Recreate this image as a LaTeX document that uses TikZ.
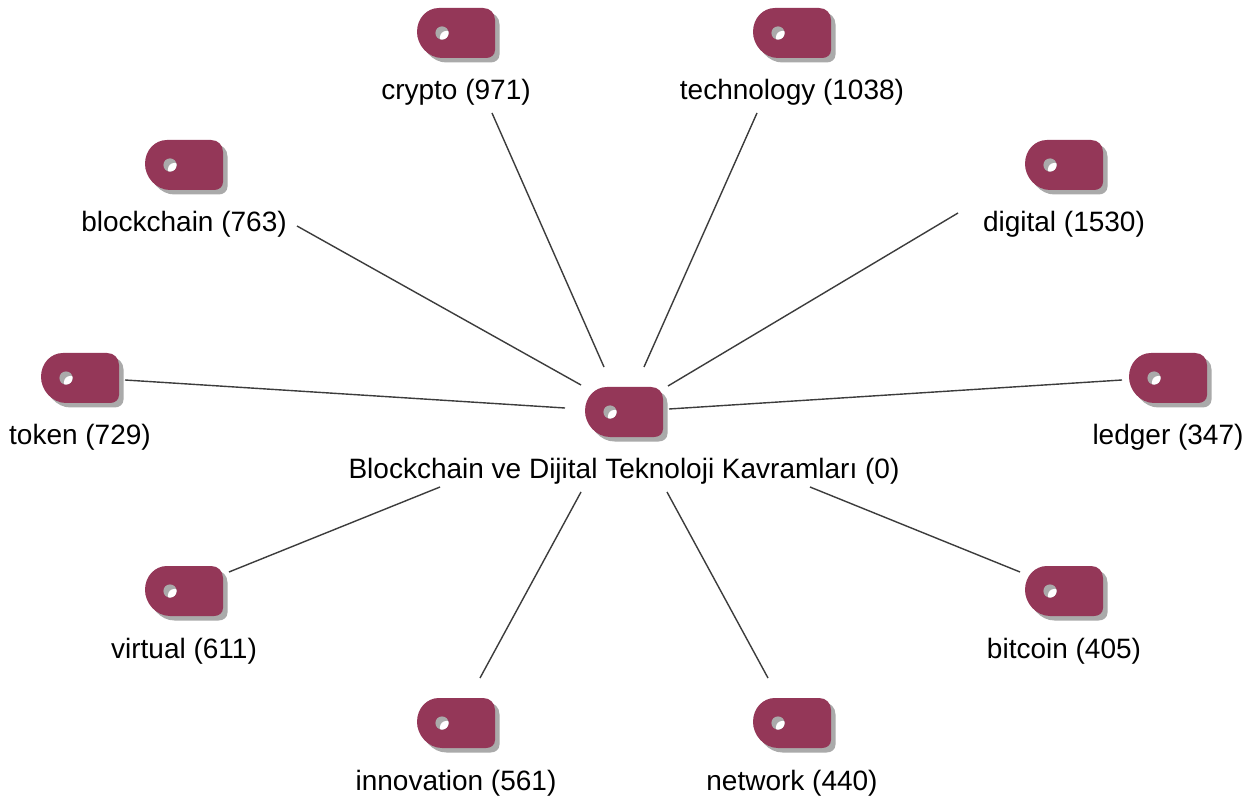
\documentclass[tikz,border=0pt]{standalone}
\usepackage{fontspec}
\setmainfont{Liberation Sans}
\definecolor{tagfill}{RGB}{148,55,88}
\definecolor{tagshadow}{RGB}{170,170,170}
\definecolor{edgecol}{RGB}{60,60,60}
\tikzset{
  x=0.75pt,y=-0.75pt,
  lbl/.style={inner sep=0pt,font=\fontsize{21pt}{25pt}\selectfont,text=black,anchor=base},
  edge/.style={draw=edgecol,line width=1.05pt},
  pics/tagicon/.style={code={
    \def\tagpath{(-17,-25) -- (27,-25) .. controls (34,-25) and (39,-20) .. (39,-13) -- (39,17) .. controls (39,22) and (35,25) .. (30,25) -- (-14,25) .. controls (-28,25) and (-39,12) .. (-39,-1) .. controls (-39,-15) and (-29,-25) .. (-17,-25) -- cycle}
    \fill[tagshadow,shift={(4.5,4.5)}] \tagpath;
    \fill[tagfill] \tagpath;
    \fill[tagshadow] (-14,0) circle (6.6);
    \begin{scope}
      \clip (-14,0) circle (6.6);
      \fill[white] (-9.5,4.5) circle (6.6);
    \end{scope}
  }}
}
\begin{document}
\begin{tikzpicture}
\useasboundingbox (0,0) rectangle (1260,798);
\fill[white] (0,0) rectangle (1260,798);
\foreach \n/\x/\y/\t/\d in {
  hub/624/412/{Blockchain ve Dijital Teknoloji Kavramları (0)}/66.5,
  crypto/456/33/{crypto (971)}/67,
  technology/792/33/{technology (1038)}/67,
  blockchain/184/165/{blockchain (763)}/67,
  digital/1064/165/{digital (1530)}/67,
  tokenn/80/378/{token (729)}/67,
  ledger/1168/378/{ledger (347)}/67,
  virtual/184/591/{virtual (611)}/67,
  bitcoin/1064/591/{bitcoin (405)}/67,
  innovation/456/723/{innovation (561)}/67,
  network/792/723/{network (440)}/67}{
  \pic at (\x,\y) {tagicon};
  \node[inner sep=0pt,minimum size=1pt] (\n) at (\x,\y) {};
  \node[lbl] (\n-label) at (\x,\y+\d) {\t};
}
\coordinate (hA) at (604,367); \coordinate (cA) at (492,113);
\coordinate (hB) at (644,367); \coordinate (cB) at (757,113);
\coordinate (hC) at (581,385); \coordinate (cC) at (297,226);
\coordinate (hD) at (668,386); \coordinate (cD) at (958,213);
\coordinate (hE) at (565,408); \coordinate (cE) at (125,380);
\coordinate (hF) at (669,409); \coordinate (cF) at (1122,380);
\coordinate (hG) at (440,487); \coordinate (cG) at (229,572);
\coordinate (hH) at (581,492); \coordinate (cH) at (480,678);
\coordinate (hI) at (667,492); \coordinate (cI) at (768,678);
\coordinate (hJ) at (810,487); \coordinate (cJ) at (1020,572);
\foreach \a in {A,B,C,D,E,F,G,H,I,J}{\draw[edge] (h\a) -- (c\a);}
\end{tikzpicture}
\end{document}
